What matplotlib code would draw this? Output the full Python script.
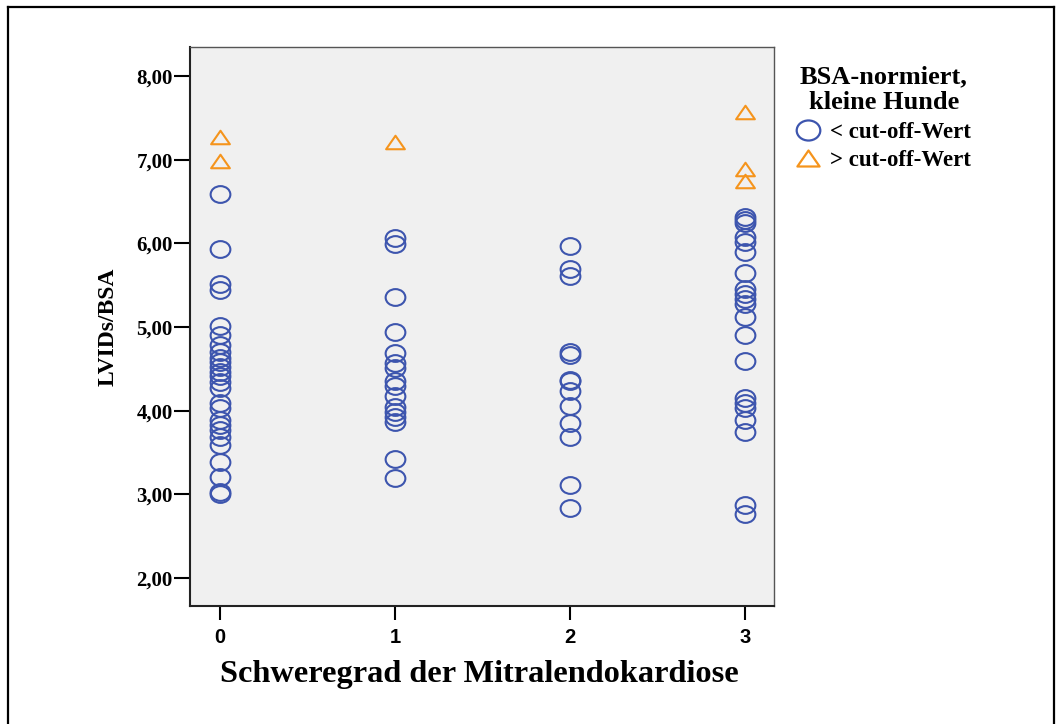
import matplotlib
matplotlib.use("Agg")
import matplotlib.pyplot as plt
from matplotlib.path import Path
from matplotlib.transforms import Affine2D
from matplotlib.lines import Line2D
import numpy as np

# ---- data ----
grades = [0, 1, 2, 3]
below_0 = [6.59, 5.93, 5.51, 5.44, 5.01, 4.90, 4.79, 4.70, 4.63, 4.58, 4.52, 4.46, 4.41,
           4.34, 4.27, 4.09, 4.03, 3.89, 3.83, 3.77, 3.69, 3.59, 3.39, 3.21, 3.03, 3.00]
below_1 = [6.07, 5.99, 5.36, 4.94, 4.69, 4.57, 4.51, 4.35, 4.29, 4.17, 4.05, 3.99, 3.93,
           3.87, 3.42, 3.20]
below_2 = [5.97, 5.69, 5.61, 4.70, 4.67, 4.37, 4.35, 4.24, 4.06, 3.85, 3.69, 3.11, 2.84]
below_3 = [6.32, 6.28, 6.24, 6.08, 6.02, 5.90, 5.64, 5.45, 5.40, 5.34, 5.28, 5.12, 4.90,
           4.60, 4.15, 4.09, 4.03, 3.89, 3.75, 2.87, 2.77]
above_0 = [7.27, 6.99]
above_1 = [7.21]
above_2 = []
above_3 = [7.57, 6.89, 6.74]

below = [below_0, below_1, below_2, below_3]
above = [above_0, above_1, above_2, above_3]

yticks = [2, 3, 4, 5, 6, 7, 8]
ytick_labels = ["2,00", "3,00", "4,00", "5,00", "6,00", "7,00", "8,00"]
xtick_labels = ["0", "1", "2", "3"]
legend_title = "BSA-normiert,\nkleine Hunde"
legend_labels = ["< cut-off-Wert", "> cut-off-Wert"]
xlabel = "Schweregrad der Mitralendokardiose"
ylabel = "LVIDs/BSA"

blue = "#3D55AE"
orange = "#F5941C"
serif = "Liberation Serif"

# ---- markers ----
ellipse = Path.unit_circle().transformed(Affine2D().scale(1.0, 0.85))
tri = Path([(0, 0.72), (-1, -0.72), (1, -0.72), (0, 0.72)],
           [Path.MOVETO, Path.LINETO, Path.LINETO, Path.CLOSEPOLY])

fig = plt.figure(figsize=(10.6, 7.24), dpi=100)
fig.patch.set_facecolor("white")

L, R, T, B = 190, 774, 47, 606
W, H = 1060, 724
ax = fig.add_axes([L / W, 1 - B / H, (R - L) / W, (B - T) / H])
ax.set_facecolor("#F0F0F0")

for g, vals in zip(grades, below):
    ax.plot([g] * len(vals), vals, linestyle="none", marker=ellipse, markersize=14.2,
            markerfacecolor="none", markeredgecolor=blue, markeredgewidth=1.5)
for g, vals in zip(grades, above):
    if vals:
        ax.plot([g] * len(vals), vals, linestyle="none", marker=tri, markersize=13.5,
                markerfacecolor="none", markeredgecolor=orange, markeredgewidth=1.5)

ax.set_xlim(-0.171, 3.166)
ax.set_ylim(1.666, 8.347)
ax.set_xticks(grades)
ax.set_xticklabels(xtick_labels, fontfamily="Liberation Sans", fontweight="bold", fontsize=14.5)
ax.set_yticks(yticks)
ax.set_yticklabels(ytick_labels, fontfamily=serif, fontweight="bold", fontsize=15)
ax.tick_params(axis="x", direction="out", length=10, width=1.5, pad=6, color="black")
ax.tick_params(axis="y", direction="out", length=11.5, width=1.5, pad=1, color="black")

for s in ["left", "bottom"]:
    ax.spines[s].set_linewidth(1.5)
    ax.spines[s].set_color("#222222")
for s in ["top", "right"]:
    ax.spines[s].set_linewidth(1.0)
    ax.spines[s].set_color("#555555")

ax.set_xlabel(xlabel, fontfamily=serif, fontweight="bold", fontsize=23.3)
ax.xaxis.set_label_coords(0.495, -0.097)
ax.set_ylabel(ylabel, fontfamily=serif, fontweight="bold", fontsize=17)
ax.yaxis.set_label_coords(-0.122, 0.5)

handles = [
    Line2D([], [], linestyle="none", marker=ellipse, markersize=17, markerfacecolor="none",
           markeredgecolor=blue, markeredgewidth=1.6),
    Line2D([], [], linestyle="none", marker=tri, markersize=16, markerfacecolor="none",
           markeredgecolor=orange, markeredgewidth=1.6),
]
leg = ax.legend(handles, legend_labels, title=legend_title, loc="upper left",
                bbox_to_anchor=(797 / W, 1 - 65 / H), bbox_transform=fig.transFigure,
                frameon=False, borderpad=0, borderaxespad=0, handlelength=1.0,
                handletextpad=0.45, labelspacing=0.3,
                prop={"family": serif, "weight": "bold", "size": 16.5},
                title_fontproperties={"family": serif, "weight": "bold", "size": 19})
leg.get_title().set_multialignment("center")
leg.get_title().set_linespacing(1.15)
leg._legend_box.sep = 6

# ---- outer frame ----
frame_kw = dict(color="black", linewidth=1.6, transform=fig.transFigure)
xl, xr, yt = 8 / W, 1054 / W, 1 - 6.7 / H
fig.add_artist(Line2D([xl, xr], [yt, yt], **frame_kw))
fig.add_artist(Line2D([xl, xl], [0, yt], **frame_kw))
fig.add_artist(Line2D([xr, xr], [0, yt], **frame_kw))

fig.savefig("out.png", dpi=100)
